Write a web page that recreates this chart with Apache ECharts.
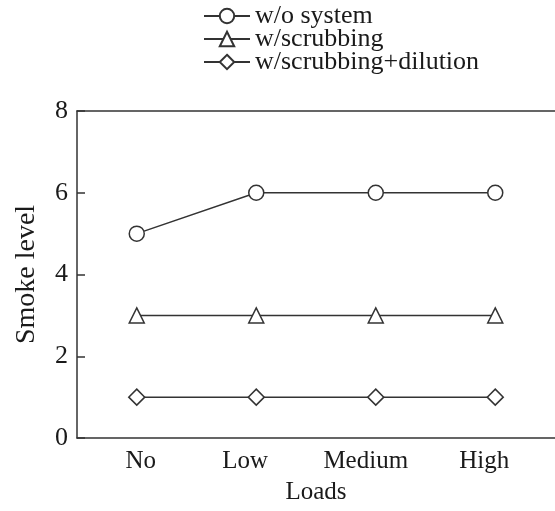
<!DOCTYPE html>
<html>
<head>
<meta charset="utf-8">
<script src="https://cdn.jsdelivr.net/npm/echarts@6/dist/echarts.min.js"></script>
<style>
  html, body { margin: 0; padding: 0; background: #fff; }
  #chart { width: 555px; height: 511px; }
</style>
</head>
<body>
<div id="chart"></div>
<script>
// Smoke level by load for three exhaust treatment configurations
const loads = ['No', 'Low', 'Medium', 'High'];
const withoutSystem = [5, 6, 6, 6];
const withScrubbing = [3, 3, 3, 3];
const withScrubbingDilution = [1, 1, 1, 1];
const yTicks = [0, 2, 4, 6, 8];

const ink = '#333';
const textInk = '#1a1a1a';
const serif = '"Liberation Serif", "Times New Roman", serif';

// small horizontal nudges (px) for the category labels, as typeset
const labelNudge = [4, -11, -10, -11];
const labelRich = {};
labelNudge.forEach(function (d, i) {
  labelRich['c' + i] = {
    fontFamily: serif, fontSize: 25, color: textInk,
    padding: d >= 0 ? [0, 0, 0, 2 * d] : [0, -2 * d, 0, 0]
  };
});

function makeSeries(name, data, symbol, size) {
  return {
    name: name,
    type: 'line',
    data: data,
    symbol: symbol,
    symbolSize: size,
    showAllSymbol: true,
    lineStyle: { color: ink, width: 1.5 },
    itemStyle: { color: '#fff', borderColor: ink, borderWidth: 1.5 },
    emphasis: { disabled: true },
    z: 3
  };
}

const chart = echarts.init(document.getElementById('chart'), null, { renderer: 'canvas' });
chart.setOption({
  animation: false,
  backgroundColor: '#fff',
  legend: {
    orient: 'vertical',
    left: 203,
    top: 3,
    padding: 0,
    itemWidth: 46,
    itemHeight: 18,
    itemGap: -3,
    textStyle: { fontFamily: serif, fontSize: 26, color: textInk },
    data: ['w/o system', 'w/scrubbing', 'w/scrubbing+dilution']
  },
  grid: { left: 77, top: 111, width: 480, bottom: 73 },
  xAxis: [
    {
      type: 'category',
      data: loads,
      boundaryGap: true,
      axisLine: { lineStyle: { color: ink, width: 1.5 } },
      axisTick: { show: false },
      axisLabel: {
        interval: 0,
        hideOverlap: false,
        fontFamily: serif, fontSize: 25, color: textInk, margin: 11,
        formatter: function (v, i) { return '{c' + i + '|' + v + '}'; },
        rich: labelRich
      },
      name: 'Loads',
      nameLocation: 'middle',
      nameGap: 42,
      nameTextStyle: { fontFamily: serif, fontSize: 25, color: textInk },
      splitLine: { show: false }
    },
    {
      type: 'category',
      data: loads,
      position: 'top',
      axisLine: { lineStyle: { color: ink, width: 1.5 } },
      axisTick: { show: false },
      axisLabel: { show: false },
      splitLine: { show: false }
    }
  ],
  yAxis: {
    type: 'value',
    min: yTicks[0],
    max: yTicks[yTicks.length - 1],
    interval: 2,
    axisLine: { show: true, lineStyle: { color: ink, width: 1.5 } },
    axisTick: { show: true, inside: true, length: 8, lineStyle: { color: ink, width: 1.5 } },
    axisLabel: { fontFamily: serif, fontSize: 26, color: textInk, margin: 9 },
    splitLine: { show: false },
    name: 'Smoke level',
    nameLocation: 'middle',
    nameRotate: 90,
    nameGap: 36,
    nameTextStyle: { fontFamily: serif, fontSize: 28, color: textInk }
  },
  series: [
    makeSeries('w/o system', withoutSystem, 'circle', 15),
    makeSeries('w/scrubbing', withScrubbing, 'triangle', 15),
    makeSeries('w/scrubbing+dilution', withScrubbingDilution, 'diamond', 16)
  ]
});
</script>
</body>
</html>
